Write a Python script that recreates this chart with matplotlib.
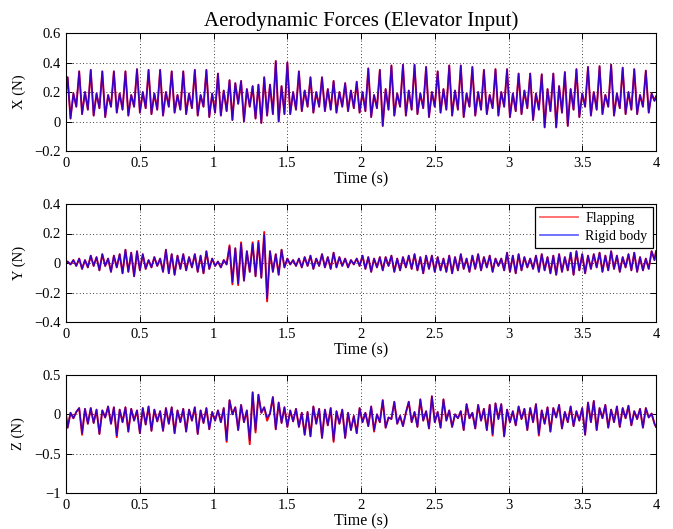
import numpy as np
import matplotlib
matplotlib.use("Agg")
import matplotlib.pyplot as plt

plt.rcParams['font.family'] = ['Liberation Serif', 'DejaVu Serif']

# ---- sample timing (s) ----
t_first = 0.011
dt = 0.0196
n_samples = 204
t_end = 4.0

# ---- X force (N): per flapping period [peak, deep trough, mid peak, mid trough] ----
x_start = 0.20
x_rigid_vals = [
    0.30, 0.02, 0.19, 0.10,   0.34, 0.05, 0.20, 0.08,   0.35, 0.04, 0.19, 0.09,
    0.34, 0.03, 0.18, 0.10,   0.34, 0.06, 0.19, 0.08,   0.34, 0.04, 0.18, 0.10,
    0.355, 0.06, 0.20, 0.09,  0.35, 0.05, 0.19, 0.08,   0.35, 0.04, 0.20, 0.10,
    0.34, 0.06, 0.18, 0.08,   0.34, 0.05, 0.19, 0.09,   0.35, 0.04, 0.18, 0.10,
    0.35, 0.03, 0.19, 0.06,   0.325, 0.04, 0.21, 0.07,  0.28, 0.01, 0.26, 0.12,
    0.275, 0.00, 0.22, 0.10,  0.24, 0.02, 0.25, -0.01,  0.30, 0.04, 0.25, 0.05,
    0.41, 0.00, 0.24, 0.05,   0.40, 0.05, 0.20, 0.08,   0.34, 0.07, 0.21, 0.10,
    0.30, 0.06, 0.20, 0.10,   0.30, 0.07, 0.22, 0.08,   0.275, 0.06, 0.20, 0.10,
    0.26, 0.07, 0.21, 0.09,   0.27, 0.06, 0.20, 0.07,   0.36, 0.03, 0.18, 0.09,
    0.35, -0.03, 0.22, 0.08,  0.38, 0.04, 0.19, 0.10,   0.385, 0.04, 0.21, 0.08,
    0.385, 0.05, 0.19, 0.09,  0.37, 0.03, 0.20, 0.10,   0.34, 0.06, 0.22, 0.08,
    0.38, 0.04, 0.21, 0.08,   0.38, 0.03, 0.19, 0.10,   0.37, 0.04, 0.20, 0.08,
    0.35, 0.05, 0.18, 0.09,   0.355, 0.04, 0.20, 0.10,  0.355, 0.03, 0.19, 0.07,
    0.325, 0.05, 0.21, 0.09,  0.325, 0.01, 0.19, 0.08,  0.32, -0.04, 0.22, 0.07,
    0.325, -0.04, 0.24, 0.06, 0.335, -0.03, 0.22, 0.08, 0.355, 0.03, 0.19, 0.10,
    0.37, 0.04, 0.20, 0.08,   0.375, 0.05, 0.18, 0.10,  0.385, 0.04, 0.19, 0.09,
    0.365, 0.05, 0.20, 0.08,  0.355, 0.05, 0.18, 0.10,  0.345, 0.06, 0.19, 0.14,
]
x_end = 0.17

# ---- Y force (N) ----
y_start = 0.0
y_rigid_vals = [
    0.01, -0.01, 0.02, -0.02, 0.03, -0.04, 0.02, -0.03, 0.05, -0.02,
    0.04, -0.05, 0.06, -0.02, 0.03, -0.06, 0.05, -0.03, 0.06, -0.07,
    0.09, -0.06, 0.07, -0.09, 0.08, -0.05, 0.06, -0.04, 0.02, -0.03,
    0.04, -0.02, 0.03, -0.06, 0.09, -0.07, 0.06, -0.08, 0.05, -0.04,
    0.06, -0.05, 0.04, -0.03, 0.06, -0.06, 0.05, -0.07, 0.08, -0.04,
    0.03, -0.02, 0.01, -0.03, 0.02, -0.01, 0.11, -0.13, 0.10, -0.14,
    0.13, -0.12, 0.08, -0.06, 0.13, -0.09, 0.14, -0.10, 0.19, -0.24,
    0.08, -0.06, 0.06, -0.08, 0.09, -0.03, 0.03, -0.01, 0.02, -0.02,
    0.03, -0.03, 0.04, -0.02, 0.05, -0.04, 0.03, -0.02, 0.06, -0.03,
    0.04, -0.04, 0.07, -0.03, 0.04, -0.02, 0.03, -0.03, 0.02, -0.01,
    0.03, -0.02, 0.05, -0.04, 0.04, -0.06, 0.03, -0.03, 0.04, -0.05,
    0.04, -0.02, 0.05, -0.06, 0.03, -0.05, 0.04, -0.03, 0.05, -0.04,
    0.06, -0.05, 0.04, -0.07, 0.05, -0.04, 0.05, -0.06, 0.04, -0.05,
    0.03, -0.06, 0.05, -0.07, 0.04, -0.05, 0.06, -0.04, 0.03, -0.06,
    0.05, -0.04, 0.06, -0.05, 0.04, -0.03, 0.05, -0.06, 0.03, -0.02,
    0.03, -0.05, 0.07, -0.06, 0.05, -0.07, 0.06, -0.05, 0.04, -0.03,
    0.03, -0.04, 0.05, -0.06, 0.06, -0.05, 0.04, -0.07, 0.05, -0.08,
    0.06, -0.06, 0.04, -0.05, 0.07, -0.08, 0.08, -0.05, 0.06, -0.07,
    0.05, -0.04, 0.06, -0.03, 0.07, -0.06, 0.05, -0.05, 0.08, -0.04,
    0.05, -0.06, 0.04, -0.03, 0.06, -0.05, 0.07, -0.06, 0.04, -0.05,
    0.03, -0.04, 0.08, 0.02,
]
y_end = 0.08
# samples where the flapping model differs visibly (index: value)
y_flap_diff = {56: 0.12, 57: -0.145, 59: -0.15, 60: 0.14, 64: 0.14, 66: 0.15, 68: 0.21, 69: -0.26}

# ---- Z force (N) ----
z_start = 0.0
z_rigid_vals = [
    -0.17, 0.02, -0.05, 0.03, 0.08, -0.24, 0.07, -0.12, 0.08, -0.11,
    0.06, -0.25, 0.05, -0.04, 0.10, -0.12, 0.09, -0.27, 0.06, -0.10,
    0.09, -0.22, 0.07, -0.08, 0.05, -0.24, 0.08, -0.13, 0.10, -0.21,
    0.06, -0.09, 0.04, -0.21, 0.08, -0.12, 0.09, -0.24, 0.05, -0.10,
    0.07, -0.22, 0.06, -0.08, 0.09, -0.25, 0.05, -0.11, 0.08, -0.19,
    0.03, -0.08, 0.05, -0.10, 0.08, -0.33, 0.18, 0.00, 0.09, -0.20,
    0.12, -0.10, 0.05, -0.33, 0.28, -0.20, 0.25, 0.02, 0.09, -0.04,
    0.01, 0.22, -0.19, 0.15, -0.11, 0.09, -0.16, 0.05, -0.09, 0.07,
    -0.16, 0.02, -0.26, 0.03, -0.28, 0.10, -0.12, 0.07, -0.30, 0.06,
    -0.14, 0.08, -0.33, 0.04, -0.12, 0.06, -0.30, 0.02, -0.20, -0.02,
    -0.24, 0.08, -0.10, 0.02, -0.15, 0.10, -0.20, 0.00, -0.10, 0.18,
    -0.17, -0.04, -0.06, 0.16, -0.12, -0.02, -0.15, 0.02, 0.16, -0.10,
    0.03, -0.16, 0.19, -0.08, 0.04, -0.18, 0.23, -0.10, 0.03, -0.17,
    0.19, -0.08, 0.05, -0.16, 0.00, -0.05, 0.04, -0.20, 0.13, -0.05,
    0.02, -0.18, 0.12, -0.08, 0.07, -0.20, 0.12, -0.25, 0.14, -0.06,
    0.13, -0.28, 0.06, -0.10, 0.04, -0.14, 0.10, -0.06, 0.07, -0.20,
    0.08, -0.10, 0.13, -0.25, 0.05, -0.12, 0.09, -0.22, 0.08, -0.04,
    0.12, -0.18, 0.03, -0.10, 0.10, -0.15, 0.04, -0.08, 0.08, -0.26,
    0.15, -0.10, 0.17, -0.20, 0.08, -0.05, 0.12, -0.17, 0.06, -0.10,
    0.10, -0.16, 0.08, -0.05, 0.11, -0.14, 0.04, -0.06, 0.07, -0.17,
    0.08, -0.04, 0.01, -0.12,
]
z_end = -0.16
z_flap_diff = {5: -0.26, 17: -0.29, 55: -0.35, 63: -0.38, 65: -0.23, 69: -0.08,
               92: -0.35, 106: -0.22, 147: -0.27, 163: -0.27}

titles = "Aerodynamic Forces (Elevator Input)"
y_labels = ["X (N)", "Y (N)", "Z (N)"]
x_label = "Time (s)"
x_ticks = [0, 0.5, 1, 1.5, 2, 2.5, 3, 3.5, 4]
x_tick_labels = ["0", "0.5", "1", "1.5", "2", "2.5", "3", "3.5", "4"]
y_ticks = [[-0.2, 0, 0.2, 0.4, 0.6], [-0.4, -0.2, 0, 0.2, 0.4], [-1, -0.5, 0, 0.5]]
y_tick_labels = [["\u22120.2", "0", "0.2", "0.4", "0.6"],
                 ["\u22120.4", "\u22120.2", "0", "0.2", "0.4"],
                 ["\u22121", "\u22120.5", "0", "0.5"]]
y_limits = [(-0.2, 0.6), (-0.4, 0.4), (-1, 0.5)]
legend_labels = ["Flapping", "Rigid body"]

# ---- build series ----
t = np.concatenate([[0.0], t_first + dt * np.arange(n_samples), [t_end]])


def series(start, vals, end):
    return np.array([start] + list(vals) + [end], dtype=float)


def with_diff(arr, diff):
    out = arr.copy()
    for k, v in diff.items():
        out[k + 1] = v
    return out


x_rigid = series(x_start, x_rigid_vals, x_end)
x_flap = x_rigid.copy()
y_rigid = series(y_start, y_rigid_vals, y_end)
y_flap = with_diff(y_rigid, y_flap_diff)
z_rigid = series(z_start, z_rigid_vals, z_end)
z_flap = with_diff(z_rigid, z_flap_diff)

data = [(x_flap, x_rigid), (y_flap, y_rigid), (z_flap, z_rigid)]

W, H = 673, 529
fig = plt.figure(figsize=(W / 100, H / 100), dpi=100)
fig.patch.set_facecolor('white')
tops = [33, 204, 375]
left, right = 66, 656
ax_h = 118

axes = []
for i, top in enumerate(tops):
    ax = fig.add_axes([left / W, 1 - (top + ax_h) / H, (right - left) / W, ax_h / H])
    flap, rigid = data[i]
    ax.plot(t, flap, color='red', lw=1.4, label=legend_labels[0])
    ax.plot(t, rigid, color='blue', lw=1.1, alpha=0.78, label=legend_labels[1])
    ax.set_xlim(0, 4)
    ax.set_ylim(*y_limits[i])
    ax.set_xticks(x_ticks)
    ax.set_xticklabels(x_tick_labels)
    ax.set_yticks(y_ticks[i])
    ax.set_yticklabels(y_tick_labels[i])
    ax.grid(True, linestyle=(0, (1, 3)), color='black', lw=0.6)
    ax.tick_params(direction='in', top=True, right=True, labelsize=10.5, length=4,
                   width=0.7, pad=4)
    for s in ax.spines.values():
        s.set_linewidth(0.8)
    ax.set_xlabel(x_label, fontsize=11.5, labelpad=1)
    ax.set_ylabel(y_labels[i], fontsize=10.5, labelpad=6)
    axes.append(ax)

axes[0].set_title(titles, fontsize=15, pad=5)
leg = axes[1].legend(loc='upper right', fontsize=10, fancybox=False, edgecolor='black',
                     framealpha=1, handlelength=2.8, borderaxespad=0.25,
                     borderpad=0.35, labelspacing=0.35, handletextpad=0.5)
leg.get_frame().set_linewidth(0.9)
for h in leg.get_lines():
    h.set_alpha(0.6)
    h.set_linewidth(1.3)

fig.savefig("out.png", dpi=100)
